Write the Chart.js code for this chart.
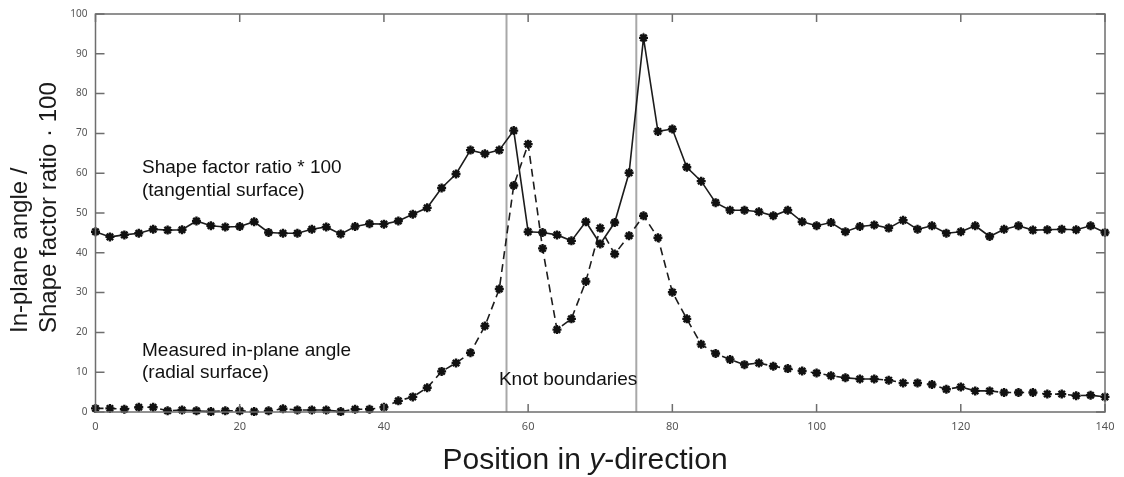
<!DOCTYPE html>
<html>
<head>
<meta charset="utf-8">
<script src="https://cdn.jsdelivr.net/npm/chart.js@4"></script>
<style>
  html, body { margin: 0; padding: 0; background: #fff; }
  #wrap { width: 1124px; height: 477px; }
</style>
</head>
<body>
<div id="wrap"><canvas id="chart" width="1124" height="477"></canvas></div>
<script>
// positions along y (every 2 units)
let positions = [0, 2, 4, 6, 8, 10, 12, 14, 16, 18, 20, 22, 24, 26, 28, 30, 32, 34, 36, 38,
    40, 42, 44, 46, 48, 50, 52, 54, 56, 58, 60, 62, 64, 66, 68, 70, 72, 74, 76, 78,
    80, 82, 84, 86, 88, 90, 92, 94, 96, 98, 100, 102, 104, 106, 108, 110, 112, 114, 116, 118,
    120, 122, 124, 126, 128, 130, 132, 134, 136, 138, 140];

// shape factor ratio * 100 (tangential surface)
let shapeFactor = [45.3, 44.0, 44.5, 44.9, 45.9, 45.7, 45.8, 48.0, 46.8, 46.5, 46.6, 47.8, 45.1, 44.9, 44.9, 45.9, 46.5, 44.7, 46.6, 47.3,
    47.2, 48.0, 49.7, 51.3, 56.3, 59.8, 65.8, 64.9, 65.8, 70.7, 45.3, 45.1, 44.5, 43.0, 47.8, 42.2, 47.6, 60.1, 94.0, 70.5,
    71.1, 61.5, 58.0, 52.6, 50.7, 50.7, 50.3, 49.3, 50.7, 47.8, 46.8, 47.6, 45.3, 46.6, 47.0, 46.2, 48.2, 45.9, 46.8, 44.9,
    45.3, 46.8, 44.1, 45.9, 46.8, 45.7, 45.8, 45.9, 45.8, 46.8, 45.1];

// measured in-plane angle (radial surface)
let inPlaneAngle = [0.9, 0.9, 0.7, 1.2, 1.2, 0.3, 0.5, 0.3, 0.1, 0.3, 0.3, 0.1, 0.3, 0.8, 0.5, 0.5, 0.5, 0.1, 0.7, 0.7,
    1.2, 2.8, 3.8, 6.1, 10.2, 12.3, 14.9, 21.6, 30.9, 56.9, 67.3, 41.1, 20.7, 23.4, 32.8, 46.2, 39.7, 44.3, 49.3, 43.8,
    30.1, 23.4, 17.0, 14.7, 13.2, 11.9, 12.3, 11.5, 10.9, 10.3, 9.8, 9.1, 8.6, 8.3, 8.3, 8.0, 7.3, 7.3, 6.9, 5.7,
    6.3, 5.3, 5.3, 4.9, 4.9, 4.9, 4.5, 4.5, 4.1, 4.2, 3.8];

let knotBoundaries = [57, 75];

const textFont = '"Liberation Sans", Arial, sans-serif';
const tickFont = '"Noto Sans", "Open Sans", sans-serif';

function toPoints(values) {
    return positions.map((x, i) => ({ x: x, y: values[i] }));
}

// knot lines behind the data
const knotLines = {
    id: 'knotLines',
    beforeDatasetsDraw(chart) {
        const ctx = chart.ctx;
        const xs = chart.scales.x;
        const area = chart.chartArea;
        ctx.save();
        ctx.strokeStyle = '#a8a8a8';
        ctx.lineWidth = 2;
        knotBoundaries.forEach(v => {
            const px = xs.getPixelForValue(v);
            ctx.beginPath();
            ctx.moveTo(px, area.top);
            ctx.lineTo(px, area.bottom);
            ctx.stroke();
        });
        ctx.restore();
    }
};

// box around the plot, inward ticks, labels and titles
const frameAndText = {
    id: 'frameAndText',
    afterDraw(chart) {
        const ctx = chart.ctx;
        const xs = chart.scales.x;
        const ys = chart.scales.y;
        const a = chart.chartArea;
        ctx.save();
        ctx.strokeStyle = '#6e6e6e';
        ctx.lineWidth = 1.5;
        ctx.strokeRect(a.left, a.top, a.right - a.left, a.bottom - a.top);

        ctx.beginPath();
        xs.ticks.forEach(t => {
            const px = xs.getPixelForValue(t.value);
            ctx.moveTo(px, a.bottom); ctx.lineTo(px, a.bottom - 8);
            ctx.moveTo(px, a.top); ctx.lineTo(px, a.top + 8);
        });
        ys.ticks.forEach(t => {
            const py = ys.getPixelForValue(t.value);
            ctx.moveTo(a.left, py); ctx.lineTo(a.left + 9, py);
            ctx.moveTo(a.right, py); ctx.lineTo(a.right - 9, py);
        });
        ctx.stroke();

        // series labels
        ctx.fillStyle = '#111';
        ctx.font = '19px ' + textFont;
        ctx.textAlign = 'left';
        ctx.textBaseline = 'alphabetic';
        const lx = xs.getPixelForValue(6.45);
        ctx.fillText('Shape factor ratio * 100', lx, ys.getPixelForValue(60));
        ctx.fillText('(tangential surface)', lx, ys.getPixelForValue(54.25));
        ctx.fillText('Measured in-plane angle', lx, ys.getPixelForValue(14.1));
        ctx.fillText('(radial surface)', lx, ys.getPixelForValue(8.6));
        ctx.fillText('Knot boundaries', xs.getPixelForValue(55.95), ys.getPixelForValue(6.75));

        // y title, two lines reading upwards
        ctx.fillStyle = '#1a1a1a';
        ctx.font = '24px ' + textFont;
        ctx.save();
        ctx.translate(27, 333);
        ctx.rotate(-Math.PI / 2);
        ctx.fillText('In-plane angle /', 0, 0);
        ctx.fillText('Shape factor ratio \u00b7 100', 0, 29);
        ctx.restore();

        // x title with italic y
        const parts = [
            ['Position in ', 'normal'],
            ['y', 'italic'],
            ['-direction', 'normal']
        ];
        let total = 0;
        parts.forEach(p => {
            ctx.font = p[1] + ' 30px ' + textFont;
            total += ctx.measureText(p[0]).width;
        });
        let cx = 585 - total / 2;
        parts.forEach(p => {
            ctx.font = p[1] + ' 30px ' + textFont;
            ctx.fillText(p[0], cx, 469);
            cx += ctx.measureText(p[0]).width;
        });
        ctx.restore();
    }
};

new Chart(document.getElementById('chart'), {
    type: 'line',
    data: {
        datasets: [
            {
                label: 'Shape factor ratio * 100',
                data: toPoints(shapeFactor),
                borderColor: '#1c1c1c',
                borderWidth: 1.6,
                pointStyle: 'star',
                pointRadius: 4.5,
                pointBorderWidth: 2.4,
                pointBorderColor: '#111',
                pointBackgroundColor: '#111',
                tension: 0,
                clip: false
            },
            {
                label: 'Measured in-plane angle',
                data: toPoints(inPlaneAngle),
                borderColor: '#1c1c1c',
                borderWidth: 1.6,
                borderDash: [8, 5],
                pointStyle: 'star',
                pointRadius: 4.5,
                pointBorderWidth: 2.4,
                pointBorderColor: '#111',
                pointBackgroundColor: '#111',
                tension: 0,
                clip: false
            }
        ]
    },
    options: {
        responsive: false,
        animation: false,
        devicePixelRatio: 1,
        layout: { padding: { top: 12, right: 19, left: 0, bottom: 0 } },
        plugins: {
            legend: { display: false },
            tooltip: { enabled: false }
        },
        scales: {
            x: {
                type: 'linear',
                min: 0,
                max: 140,
                afterFit(scale) { scale.height = 65; },
                grid: { display: false, drawTicks: false },
                border: { display: false },
                ticks: {
                    stepSize: 20,
                    padding: 8,
                    maxRotation: 0,
                    color: '#555',
                    font: { family: tickFont, size: 11 }
                }
            },
            y: {
                min: 0,
                max: 100,
                afterFit(scale) { scale.width = 95.5; },
                grid: { display: false, drawTicks: false },
                border: { display: false },
                ticks: {
                    stepSize: 10,
                    padding: 8,
                    color: '#555',
                    font: { family: tickFont, size: 10 }
                }
            }
        }
    },
    plugins: [knotLines, frameAndText]
});
</script>
</body>
</html>
